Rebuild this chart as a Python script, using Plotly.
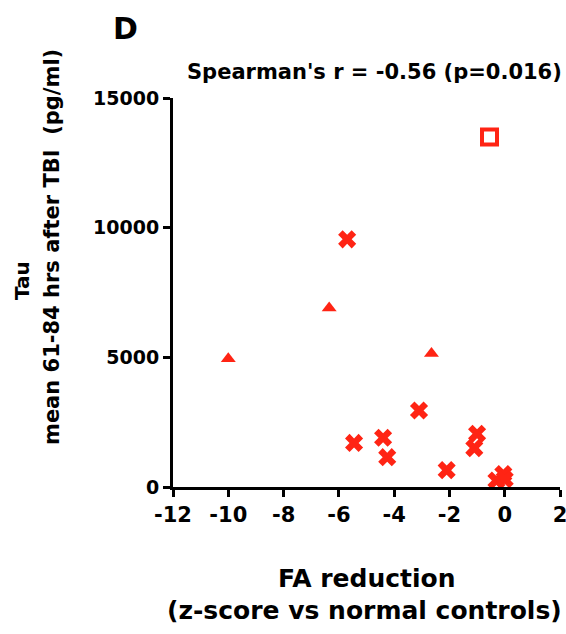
import plotly.graph_objects as go

# Data
cross_x = [-5.7, -3.1, -5.45, -4.4, -4.25, -2.1, -1.0, -1.1, -0.3, -0.05, 0.0]
cross_y = [9550, 2950, 1700, 1900, 1150, 650, 2050, 1500, 250, 500, 300]
tri_x = [-10.0, -6.35, -2.65]
tri_y = [4950, 6900, 5150]
sq_x = [-0.55]
sq_y = [13500]

x_ticks = [-12, -10, -8, -6, -4, -2, 0, 2]
y_ticks = [0, 5000, 10000, 15000]

RED = "#FF2414"
FONT = "DejaVu Sans, Arial, sans-serif"

fig = go.Figure()
fig.add_trace(go.Scatter(x=cross_x, y=cross_y, mode="markers",
                         marker=dict(symbol="x", size=16, color=RED, line=dict(width=0)),
                         cliponaxis=False, showlegend=False))
fig.add_trace(go.Scatter(x=tri_x, y=tri_y, mode="markers",
                         marker=dict(symbol="triangle-up", size=13, color=RED, line=dict(width=0)),
                         cliponaxis=False, showlegend=False))
fig.add_trace(go.Scatter(x=sq_x, y=sq_y, mode="markers",
                         marker=dict(symbol="square-open", size=15, color=RED, line=dict(width=4, color=RED)),
                         cliponaxis=False, showlegend=False))

W, H = 566, 634
L, R, T = 173, 6, 98
B = H - 487
pw, ph = W - L - R, H - T - B

def px(x):
    return (x - L) / pw

def py(y):
    return (H - B - y) / ph

axis_common = dict(showgrid=False, zeroline=False, showline=True, linecolor="black",
                   linewidth=3, ticks="outside", ticklen=7, tickwidth=3, tickcolor="black",
                   ticklabeloverflow="allow", automargin=False)

fig.update_layout(
    width=W, height=H,
    margin=dict(l=L, r=R, t=T, b=B, autoexpand=False),
    paper_bgcolor="white", plot_bgcolor="white",
    xaxis=dict(range=[-12, 2], tickvals=x_ticks, ticktext=[f"<b>{v}</b>" for v in x_ticks],
               tickfont=dict(family=FONT, size=21, color="black"), **axis_common),
    yaxis=dict(range=[0, 15000], tickvals=y_ticks, ticktext=[f"<b>{v}</b>" for v in y_ticks],
               tickfont=dict(family=FONT, size=19, color="black"), **axis_common),
    font=dict(family=FONT, color="black"),
)

def ann(text, x, y, size, angle=0):
    fig.add_annotation(text=f"<b>{text}</b>", x=px(x), y=py(y), xref="paper", yref="paper",
                       showarrow=False, xanchor="center", yanchor="middle",
                       textangle=angle, font=dict(family=FONT, size=size, color="black"))

ann("D", 125, 29, 30)
ann("Spearman's r = -0.56 (p=0.016)", 374, 72, 21)
ann("Tau", 22, 281, 20, -90)
ann("mean 61-84 hrs after TBI  (pg/ml)", 52, 247, 21, -90)
ann("FA reduction", 367, 578, 25)
ann("(z-score vs normal controls)", 364, 610, 25)

fig.write_html(
    "out.html",
    config={"displayModeBar": False},
    post_script="document.body.style.margin='0';document.documentElement.style.overflow='hidden';",
)
